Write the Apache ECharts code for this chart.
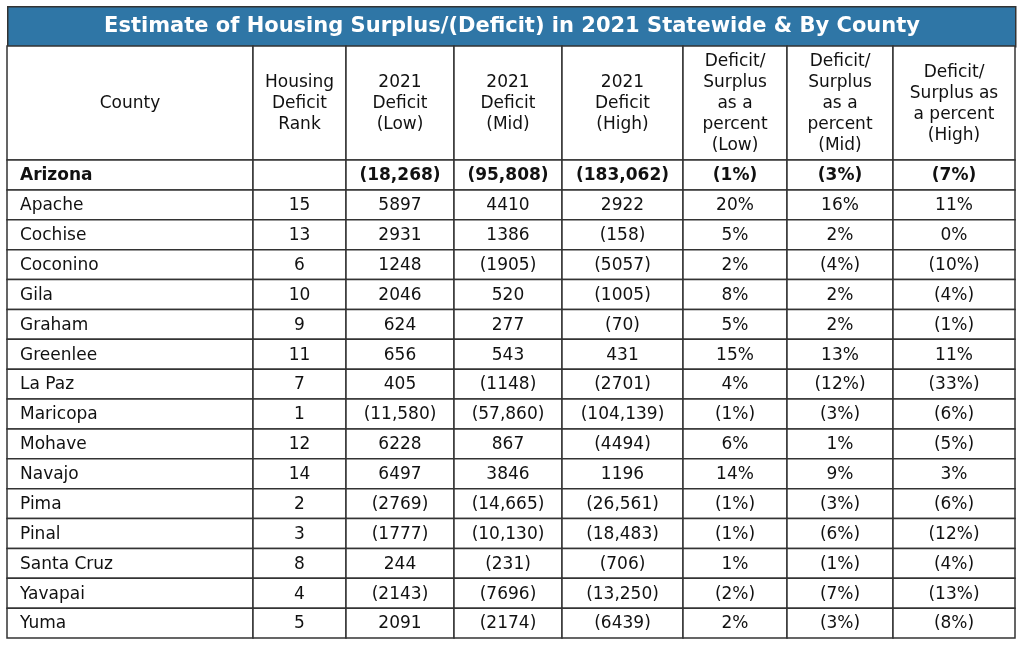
<!DOCTYPE html>
<html>
<head>
<meta charset="utf-8">
<script src="https://cdn.jsdelivr.net/npm/echarts@6/dist/echarts.min.js"></script>
<style>
html,body{margin:0;padding:0;background:#fff;}
#chart{width:1024px;height:647px;}
</style>
</head>
<body>
<div id="chart"></div>
<script>
// ---- data ----
const titleText = 'Estimate of Housing Surplus/(Deficit) in 2021 Statewide & By County';
const headers = ['County', 'Housing\nDeficit\nRank', '2021\nDeficit\n(Low)', '2021\nDeficit\n(Mid)', '2021\nDeficit\n(High)',
  'Deficit/\nSurplus\nas a\npercent\n(Low)', 'Deficit/\nSurplus\nas a\npercent\n(Mid)', 'Deficit/\nSurplus as\na percent\n(High)'];
const stateName = 'Arizona';
const stateValues = [-18268, -95808, -183062];
const statePercents = [-1, -3, -7];
const counties = ['Apache','Cochise','Coconino','Gila','Graham','Greenlee','La Paz','Maricopa','Mohave','Navajo','Pima','Pinal','Santa Cruz','Yavapai','Yuma'];
const rank = [15,13,6,10,9,11,7,1,12,14,2,3,8,4,5];
const deficitLow = [5897,2931,1248,2046,624,656,405,-11580,6228,6497,-2769,-1777,244,-2143,2091];
const deficitMid = [4410,1386,-1905,520,277,543,-1148,-57860,867,3846,-14665,-10130,-231,-7696,-2174];
const deficitHigh = [2922,-158,-5057,-1005,-70,431,-2701,-104139,-4494,1196,-26561,-18483,-706,-13250,-6439];
const pctLow = [20,5,2,8,5,15,4,-1,6,14,-1,-1,1,-2,2];
const pctMid = [16,2,-4,2,2,13,-12,-3,1,9,-3,-6,-1,-7,-3];
const pctHigh = [11,0,-10,-4,-1,11,-33,-6,-5,3,-6,-12,-4,-13,-8];

// ---- layout (column edges in axis units) ----
const colEdges = [0, 246, 339, 447, 555, 676, 780, 886, 1008];
const FONT = 'DejaVu Sans, Verdana, sans-serif';
const LINE = '#333333';

function fmtNum(n) {
  const a = Math.abs(n);
  const s = a >= 10000 ? a.toLocaleString('en-US') : String(a);
  return n < 0 ? '(' + s + ')' : s;
}
function fmtPct(n) {
  return n < 0 ? '(' + Math.abs(n) + '%)' : n + '%';
}

const rowNames = [stateName].concat(counties);
const bodyData = [];
// state row
[stateName, '', fmtNum(stateValues[0]), fmtNum(stateValues[1]), fmtNum(stateValues[2]),
  fmtPct(statePercents[0]), fmtPct(statePercents[1]), fmtPct(statePercents[2])]
  .forEach((t, c) => bodyData.push([c, 0, t, 1]));
counties.forEach((name, i) => {
  [name, String(rank[i]), fmtNum(deficitLow[i]), fmtNum(deficitMid[i]), fmtNum(deficitHigh[i]),
    fmtPct(pctLow[i]), fmtPct(pctMid[i]), fmtPct(pctHigh[i])]
    .forEach((t, c) => bodyData.push([c, i + 1, t, 0]));
});
const headData = headers.map((h, c) => [c, 0, h, 0]);

function cellRenderer(isHeader) {
  return function (params, api) {
    const c = api.value(0);
    const r = api.value(1);
    const item = (isHeader ? headData : bodyData)[params.dataIndex];
    const text = item[2];
    const bold = item[3] === 1;
    const p0 = api.coord([colEdges[c], r]);
    const p1 = api.coord([colEdges[c + 1], r]);
    const h = api.size([0, 1])[1];
    const x0 = p0[0], x1 = p1[0], yc = p0[1];
    const left = c === 0 && !isHeader;
    return {
      type: 'group',
      children: [
        { type: 'rect', shape: { x: x0, y: yc - h / 2, width: x1 - x0, height: h },
          style: { fill: '#fff', stroke: LINE, lineWidth: 1.5 } },
        { type: 'text', x: left ? x0 + 13 : (x0 + x1) / 2, y: yc + 1,
          style: { text: text, fill: '#111', font: (bold ? 'bold ' : '') + '17px ' + FONT,
            align: left ? 'left' : 'center', verticalAlign: 'middle', lineHeight: 21 } }
      ]
    };
  };
}

const chart = echarts.init(document.getElementById('chart'), null, { renderer: 'canvas' });
chart.setOption({
  backgroundColor: '#fff',
  animation: false,
  title: {
    text: titleText, left: 'center', top: 11,
    textStyle: { color: '#fff', fontFamily: FONT, fontWeight: 'bold', fontSize: 21 }
  },
  graphic: [
    { type: 'rect', left: 7, top: 6, shape: { width: 1008, height: 40 }, z: -1,
      style: { fill: '#2f76a6', stroke: LINE, lineWidth: 1.5 } }
  ],
  grid: [
    { left: 7, top: 46, width: 1008, height: 114 },
    { left: 7, top: 160, width: 1008, height: 478 }
  ],
  xAxis: [
    { type: 'value', gridIndex: 0, min: 0, max: colEdges[colEdges.length - 1], show: false },
    { type: 'value', gridIndex: 1, min: 0, max: colEdges[colEdges.length - 1], show: false }
  ],
  yAxis: [
    { type: 'category', gridIndex: 0, data: ['header'], show: false },
    { type: 'category', gridIndex: 1, data: rowNames, inverse: true, show: false }
  ],
  series: [
    { type: 'custom', xAxisIndex: 0, yAxisIndex: 0, data: headData.map(d => [d[0], d[1]]),
      renderItem: cellRenderer(true), encode: { x: 0, y: 1 } },
    { type: 'custom', xAxisIndex: 1, yAxisIndex: 1, data: bodyData.map(d => [d[0], d[1]]),
      renderItem: cellRenderer(false), encode: { x: 0, y: 1 } }
  ]
});
</script>
</body>
</html>
